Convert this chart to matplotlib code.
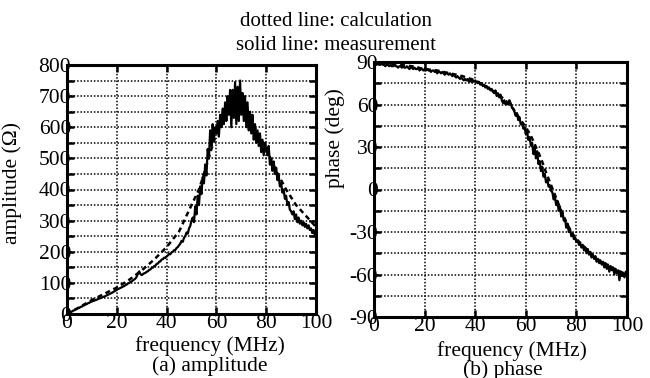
import numpy as np
import matplotlib
matplotlib.use("Agg")
import matplotlib.pyplot as plt
from matplotlib.ticker import MultipleLocator

plt.rcParams['font.family'] = ['Liberation Serif', 'DejaVu Serif']
plt.rcParams['axes.unicode_minus'] = False

# measured frequency grid (MHz), 0.5 MHz step
freq_meas = np.arange(0, 100.5, 0.5)

# amplitude, measured (ohm)
amp_meas = [
    0, 3, 4, 7, 8, 11, 12, 15, 16, 19, 20, 23, 24, 27, 28, 31, 32, 35, 36, 39, 40,
    42, 43, 45, 46, 48, 50, 51, 53, 55, 56, 58, 60, 62, 64, 66, 68, 70, 73, 75, 78,
    80, 82, 84, 86, 88, 90, 93, 95, 98, 100, 103, 105, 108, 111, 114, 120, 130, 137, 128, 125,
    128, 131, 132, 136, 137, 142, 143, 148, 149, 154, 155, 161, 162, 168, 169, 175, 176, 181, 180, 185,
    188, 193, 192, 198, 200, 205, 206, 212, 215, 221, 226, 235, 232, 245, 250, 262, 258, 275, 283, 300,
    310, 295, 345, 320, 380, 350, 410, 385, 440, 420, 480, 445, 530, 500, 590, 540, 610, 560, 600, 580,
    620, 570, 640, 600, 660, 610, 680, 620, 700, 640, 720, 600, 720, 630, 745, 610, 730, 620, 750, 640,
    710, 620, 700, 600, 680, 590, 650, 580, 640, 560, 610, 550, 590, 540, 580, 520, 560, 510, 550, 530,
    510, 540, 480, 500, 460, 490, 450, 470, 430, 445, 410, 420, 390, 400, 370, 380, 350, 360, 335, 330,
    320, 330, 305, 320, 295, 310, 290, 300, 285, 295, 280, 290, 275, 285, 270, 275, 260, 270, 255, 260,
]

# phase, measured (deg)
phase_meas = [
    89, 89, 88, 89, 88, 88, 89, 88, 88, 87, 88, 88, 87, 88, 87, 87, 88, 87, 87, 86, 87,
    87, 86, 87, 86, 86, 87, 86, 85, 86, 86, 85, 86, 85, 85, 86, 84, 85, 85, 84, 85,
    84, 85, 84, 84, 83, 84, 84, 83, 84, 82, 83, 83, 82, 83, 82, 81, 82, 82, 81, 82,
    81, 80, 81, 80, 79, 80, 79, 78, 79, 78, 77, 78, 77, 78, 76, 77, 76, 77, 76, 77,
    76, 75, 76, 74, 75, 73, 74, 72, 73, 71, 72, 70, 71, 69, 68, 70, 66, 68, 65, 67,
    63, 61, 63, 60, 62, 60, 63, 61, 58, 57, 55, 52, 54, 49, 51, 46, 47, 43, 44, 39,
    41, 35, 37, 31, 33, 25, 30, 22, 27, 18, 20, 13, 16, 9, 11, 5, 7, 2, 3, -1,
    -2, -7, -5, -11, -8, -15, -12, -19, -16, -22, -21, -27, -24, -30, -28, -33, -31, -35, -34, -37,
    -36, -39, -38, -41, -39, -43, -41, -45, -42, -46, -44, -48, -46, -49, -47, -51, -49, -52, -50, -53,
    -51, -55, -52, -56, -53, -58, -54, -57, -55, -60, -56, -59, -57, -64, -58, -61, -59, -62, -58, -60,
]

# calculation
freq_calc = [0, 5, 10, 15, 20, 25, 30, 35, 40, 45, 50, 53, 55, 58, 60, 62, 64, 66, 68, 70,
             72, 74, 76, 78, 80, 84, 88, 92, 96, 100]
amp_calc = [0, 22, 45, 65, 85, 110, 140, 175, 215, 265, 350, 400, 450, 530, 580, 620, 660, 690, 700, 690,
            660, 620, 590, 560, 530, 460, 400, 350, 315, 280]
phase_calc = [90, 89, 88, 87, 85, 84, 82, 80, 77, 72, 66, 61, 57, 49, 44, 38, 30, 22, 12, 3,
              -6, -15, -23, -30, -35, -42, -49, -53, -57, -60]

W, H = 650, 378
FS = 15.5
fig = plt.figure(figsize=(W / 100, H / 100), dpi=100)

def px(x0, y_top, x1, y_bot):
    return [x0 / W, 1 - y_bot / H, (x1 - x0) / W, (y_bot - y_top) / H]

ax1 = fig.add_axes(px(67, 65, 316, 314))
ax2 = fig.add_axes(px(374, 62, 627, 317))

calc_style = dict(color='black', lw=1.8, linestyle=(0, (2.0, 1.5)))
meas_style = dict(color='black', lw=1.6)

ax1.plot(freq_calc, amp_calc, **calc_style)
ax1.plot(freq_meas, amp_meas, **meas_style)
ax2.plot(freq_calc, phase_calc, **calc_style)
ax2.plot(freq_meas, phase_meas, **meas_style)

ax1.set_xlim(0, 100)
ax1.set_ylim(0, 800)
ax1.yaxis.set_major_locator(MultipleLocator(100))
ax1.yaxis.set_minor_locator(MultipleLocator(50))

ax2.set_xlim(0, 100)
ax2.set_ylim(-90, 90)
ax2.yaxis.set_major_locator(MultipleLocator(30))
ax2.yaxis.set_minor_locator(MultipleLocator(15))

for ax in (ax1, ax2):
    ax.xaxis.set_major_locator(MultipleLocator(20))
    ax.grid(True, which='both', color='black', lw=1.1, linestyle=(0, (1, 1.2)))
    ax.set_axisbelow(True)
    for s in ax.spines.values():
        s.set_linewidth(2.2)
    ax.tick_params(which='both', direction='in', top=True, right=True,
                   length=5, width=1.8, labelsize=FS)
    ax.tick_params(axis='y', which='major', pad=-3)
    ax.tick_params(axis='x', which='major', pad=0)

ax1.set_ylabel("amplitude (\u03a9)", fontsize=FS)
ax1.yaxis.set_label_coords(-0.18, 0.526)
ax2.set_ylabel("phase (deg)", fontsize=FS)
ax2.yaxis.set_label_coords(-0.115, 0.70)

fig.text(210 / W, 1 - 346 / H, "frequency (MHz)", ha='center', va='center', fontsize=FS)
fig.text(210 / W, 1 - 366 / H, "(a) amplitude", ha='center', va='center', fontsize=FS)
fig.text(512 / W, 1 - 351 / H, "frequency (MHz)", ha='center', va='center', fontsize=FS)
fig.text(503 / W, 1 - 370 / H, "(b) phase", ha='center', va='center', fontsize=FS)

fig.text(336 / W, 1 - 21 / H, "dotted line: calculation", ha='center', va='center', fontsize=15)
fig.text(336 / W, 1 - 46 / H, "solid line: measurement", ha='center', va='center', fontsize=15)

fig.savefig("out.png", dpi=100)
